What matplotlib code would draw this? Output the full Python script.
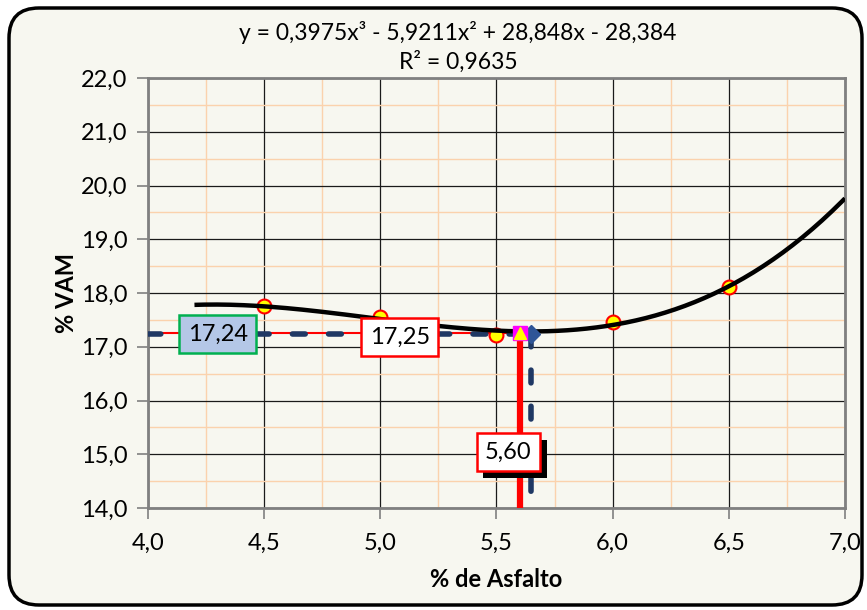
import numpy as np
import matplotlib.pyplot as plt
import matplotlib.patheffects as pe
from matplotlib.patches import FancyBboxPatch
from matplotlib.transforms import IdentityTransform
from matplotlib.ticker import MultipleLocator, FuncFormatter

# ensaio Marshall: % de asfalto x % VAM
asfalto = [4.5, 5.0, 5.5, 6.0, 6.5]
vam = [17.76, 17.56, 17.22, 17.46, 18.11]

# linha de tendencia polinomial (grau 3)
coef = [0.3975, -5.9211, 28.848, -28.384]
r2 = 0.9635
x_trend_ini, x_trend_fim = 4.2, 7.0

# teor de projeto e ponto de minimo da curva
teor_proj = 5.60
vam_proj = 17.25
teor_min = 5.65
vam_min = 17.24

x_min, x_max = 4.0, 7.0
y_min, y_max = 14.0, 22.0

plt.rcParams['font.family'] = ['Lato', 'DejaVu Sans']


def virgula(v, pos, casas=1):
    return f'{v:.{casas}f}'.replace('.', ',')


fig = plt.figure(figsize=(8.67, 6.10), dpi=100)
fig.patch.set_facecolor('white')

# moldura arredondada do grafico
moldura = FancyBboxPatch((9, 5), 853, 597, boxstyle='round,pad=0,rounding_size=30',
                         transform=IdentityTransform(), facecolor='#f7f7f0',
                         edgecolor='black', linewidth=2.5, zorder=-10)
fig.patches.append(moldura)

ax = fig.add_axes([0.1707, 0.1672, 0.8039, 0.7049])
ax.set_facecolor('#f7f7f0')
ax.set_xlim(x_min, x_max)
ax.set_ylim(y_min, y_max)

ax.xaxis.set_major_locator(MultipleLocator(0.5))
ax.xaxis.set_minor_locator(MultipleLocator(0.25))
ax.yaxis.set_major_locator(MultipleLocator(1.0))
ax.yaxis.set_minor_locator(MultipleLocator(0.5))
ax.xaxis.set_major_formatter(FuncFormatter(virgula))
ax.yaxis.set_major_formatter(FuncFormatter(virgula))

ax.grid(which='minor', color='#fbd2ad', linewidth=1.0, zorder=0)
ax.grid(which='major', color='#1a1a1a', linewidth=0.9, zorder=0.5)
ax.set_axisbelow(True)

for s in ax.spines.values():
    s.set_color('#808080')
    s.set_linewidth(2)

ax.tick_params(which='major', direction='out', length=8, width=1.2, color='#808080',
               labelsize=17)
ax.tick_params(axis='x', pad=10)
ax.tick_params(axis='y', pad=7)
ax.tick_params(which='minor', length=0)

ax.set_xlabel('% de Asfalto', fontsize=17, fontweight='bold', labelpad=10)
ax.set_ylabel('% VAM', fontsize=17, fontweight='bold', labelpad=2)

# curva de tendencia
xt = np.linspace(x_trend_ini, x_trend_fim, 200)
ax.plot(xt, np.polyval(coef, xt), color='black', linewidth=3.2, zorder=6,
        solid_capstyle='butt')

# pontos do ensaio
ax.plot(asfalto, vam, linestyle='none', marker='o', markersize=10,
        markerfacecolor='#ffff00', markeredgecolor='#ff0000', markeredgewidth=1.5, zorder=5)

# linhas de leitura do teor de projeto
ax.plot([x_min, teor_proj], [vam_proj, vam_proj], color='#ff0000', linewidth=1.5, zorder=4)
ax.plot([teor_proj, teor_proj], [vam_proj, y_min], color='#ff0000', linewidth=4.5, zorder=4,
        solid_capstyle='butt')

# linhas de leitura do minimo da curva
ax.plot([x_min, teor_min], [vam_min, vam_min], color='#1f3864', linewidth=4,
        dashes=(2.3, 4.2), dash_capstyle='round', zorder=5)
ax.plot([teor_min, teor_min], [vam_min, y_min], color='#1f3864', linewidth=4,
        dashes=(2.3, 4.2), dash_capstyle='round', zorder=5)
ax.plot([teor_min], [vam_min], marker='D', markersize=9, color='#2e5597', zorder=7)

ax.plot([teor_proj], [vam_proj], marker='s', markersize=10, color='#ff00ff', zorder=7)
ax.plot([teor_proj], [vam_proj], marker='^', markersize=8, color='#ffff00', zorder=8)

# rotulos de valores
ax.text(4.30, vam_min, virgula(vam_min, None, 2), fontsize=17, ha='center', va='center',
        zorder=9, bbox=dict(boxstyle='square,pad=0.35', facecolor='#b4c7e7',
                            edgecolor='#00b050', linewidth=1.8))
ax.text(5.083, 17.18, virgula(vam_proj, None, 2), fontsize=17, ha='center', va='center',
        zorder=9, bbox=dict(boxstyle='square,pad=0.35', facecolor='white',
                            edgecolor='#ff0000', linewidth=1.8))

rot_teor = ax.text(5.55, 15.04, virgula(teor_proj, None, 2), fontsize=17, ha='center',
                   va='center', zorder=10,
                   bbox=dict(boxstyle='square,pad=0.35', facecolor='white',
                             edgecolor='#ff0000', linewidth=1.8))
rot_teor.get_bbox_patch().set_path_effects([
    pe.SimplePatchShadow(offset=(5, -5), shadow_rgbFace='black', alpha=1.0),
    pe.Normal()])

# equacao da tendencia
eq = 'y = {}x³ - {}x² + {}x - {}'.format(
    str(coef[0]).replace('.', ','), str(-coef[1]).replace('.', ','),
    str(coef[2]).replace('.', ','), str(-coef[3]).replace('.', ','))
fig.text(458 / 867, 1 - 32 / 610, eq, fontsize=16.5, ha='center', va='center')
fig.text(458 / 867, 1 - 62 / 610, 'R² = ' + str(r2).replace('.', ','), fontsize=16.5,
         ha='center', va='center')

fig.savefig('out.png', dpi=100, facecolor=fig.get_facecolor())
